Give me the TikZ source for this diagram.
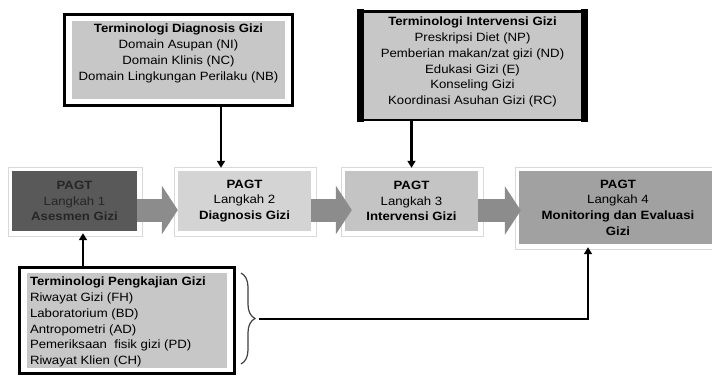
\documentclass[tikz,border=0pt]{standalone}
\usepackage{fontspec}
\setmainfont{Liberation Sans}[FakeStretch=1.1]
\usetikzlibrary{positioning,fit,arrows.meta,decorations.pathreplacing}

\tikzset{
    stepbox/.style={fill=#1, inner sep=2pt, align=center, font=\fontsize{12}{15.7}\selectfont},
    stepframe/.style={draw=black!15, line width=1.2pt, inner sep=4.5pt},
    flow/.style={draw=black!45, line width=23pt, -{Triangle[length=16pt,width=48pt]}},
    termbox/.style={fill=black!22, inner sep=0pt},
    termtext/.style={inner sep=0pt, font=\fontsize{12}{15.7}\selectfont},
    termframe/.style={draw, line width=3pt, inner xsep=7.5pt, inner ysep=6pt},
    conn/.style={line width=2.1pt, -{Triangle[length=7pt,width=8pt]}},
    brace/.style={decorate, decoration={brace, amplitude=14pt}, draw=black!75, line width=1.2pt}
}

\begin{document}
\begin{tikzpicture}[x=1pt, y=-1pt]
    % Page
    \fill[white] (0,0) rectangle (712,376);
    \useasboundingbox (0,0) rectangle (712,376);

    % PAGT steps
    \node[stepbox=black!65, text=black!85, minimum width=125pt, minimum height=60pt] (s1) at (74.5,201)
        {\textbf{PAGT}\\Langkah 1\\\textbf{Asesmen Gizi}};
    \node[stepbox=black!17, minimum width=133pt, minimum height=60pt] (s2) at (244.5,201)
        {\textbf{PAGT}\\Langkah 2\\\textbf{Diagnosis Gizi}};
    \node[stepbox=black!23, minimum width=133pt, minimum height=60pt] (s3) at (411.5,201)
        {\textbf{PAGT}\\Langkah 3\\\textbf{Intervensi Gizi}};
    \node[stepbox=black!37, minimum width=198pt, minimum height=73pt] (s4) at (618,207.5)
        {\textbf{PAGT}\\Langkah 4\\\textbf{Monitoring dan Evaluasi}\\\textbf{Gizi}};
    \foreach \s in {s1,s2,s3,s4}
        \node[stepframe, fit=(\s), xshift=1pt, yshift=-1pt] (\s-frame) {};

    % Big arrows between steps
    \draw[flow] ([yshift=-9pt]s1.east) -- ([yshift=-9pt]s2.west);
    \draw[flow] ([yshift=-9pt]s2.east) -- ([shift={(7pt,-9pt)}]s3.west);
    \draw[flow] ([yshift=-9.5pt]s3.east) -- ([shift={(2pt,-3pt)}]s4.west);

    % Terminologi Diagnosis Gizi
    \node[termbox, minimum width=213pt, minimum height=78pt] (diag) at (178.5,60) {};
    \node[termtext, align=center, below=3.2pt of diag.north] (diagtext)
        {\textbf{Terminologi Diagnosis Gizi}\\Domain Asupan (NI)\\Domain Klinis (NC)\\Domain Lingkungan Perilaku (NB)};
    \node[termframe, fit=(diag)] (diag-frame) {};

    % Terminologi Intervensi Gizi
    \node[termbox, draw, line width=2.5pt, minimum width=222pt, minimum height=108.5pt] (interv) at (472.5,65.5) {};
    \fill ([shift={(-3.5pt,1.25pt)}]interv.north west) rectangle ([shift={(3.5pt,-1.25pt)}]interv.south west);
    \fill ([shift={(-3.5pt,1.25pt)}]interv.north east) rectangle ([shift={(3.5pt,-1.25pt)}]interv.south east);
    \node[termtext, align=center, below=7pt of interv.north] (intervtext)
        {\textbf{Terminologi Intervensi Gizi}\\Preskripsi Diet (NP)\\Pemberian makan/zat gizi (ND)\\Edukasi Gizi (E)\\Konseling Gizi\\Koordinasi Asuhan Gizi (RC)};

    % Terminologi Pengkajian Gizi
    \node[termbox, minimum width=200pt, minimum height=95pt] (peng) at (127,320.5) {};
    \node[termtext, align=left, below right=4.2pt and 3pt of peng.north west] (pengtext)
        {\textbf{Terminologi Pengkajian Gizi}\\Riwayat Gizi (FH)\\Laboratorium (BD)\\Antropometri (AD)\\Pemeriksaan\ \ fisik gizi (PD)\\Riwayat Klien (CH)};
    \node[termframe, inner xsep=7pt, inner ysep=5pt, fit=(peng)] (peng-frame) {};

    % Brace
    \draw[brace] (241,273) -- (241,364);
    \coordinate (bracetip) at (259,319);

    % Connectors
    \draw[conn, shorten >=3pt] ([xshift=42.5pt]diag-frame.south) -- ([xshift=42.5pt]diag-frame.south |- s2.north);
    \draw[conn, shorten >=3pt] (s3.north |- interv.south) -- (s3.north);
    \draw[conn, shorten >=2pt] ([xshift=-44pt]peng-frame.north) -- ([xshift=-44pt]peng-frame.north |- s1.south);
    \draw[conn, shorten >=3pt] (bracetip) -| ([xshift=-30pt]s4.south);

\end{tikzpicture}
\end{document}
